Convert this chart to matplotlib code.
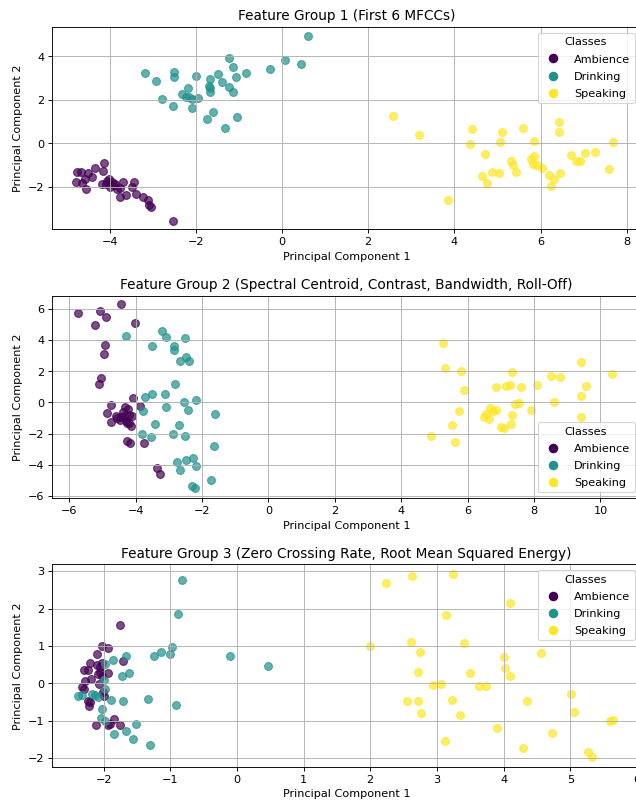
import matplotlib
matplotlib.use("Agg")
import matplotlib.pyplot as plt
import numpy as np
from matplotlib.lines import Line2D

classes = ["Ambience", "Drinking", "Speaking"]

# group 1: first 6 MFCCs
g1_amb_x = [-4.13, -4.33, -4.16, -4.75, -4.67, -4.51, -4.41, -4.58, -4.77, -4.65, -4.55, -4.18,
            -4.01, -3.95, -3.87, -3.98, -3.83, -3.75, -3.68, -3.77, -3.63, -3.49, -3.44, -3.39,
            -3.23, -3.11, -3.09, -3.03, -2.54, -4.06, -3.91, -4.08]
g1_amb_y = [-0.91, -1.15, -1.26, -1.32, -1.31, -1.37, -1.55, -1.65, -1.77, -1.83, -2.11, -1.86,
            -1.66, -1.77, -1.85, -2.00, -2.08, -2.05, -1.77, -2.49, -2.40, -2.00, -1.80, -2.31,
            -2.46, -2.62, -2.82, -2.92, -3.57, -1.74, -1.92, -1.85]
g1_dri_x = [0.61, -1.22, 0.08, 0.45, -1.14, -0.29, -3.19, -2.51, -2.50, -2.93, -2.00, -1.48,
            -0.83, -1.07, -1.66, -1.40, -1.69, -1.67, -1.68, -1.22, -1.13, -2.19, -2.33, -2.23,
            -2.16, -2.08, -1.96, -2.79, -2.54, -2.10, -1.60, -1.73, -1.04, -1.32]
g1_dri_y = [4.92, 3.91, 3.85, 3.65, 3.52, 3.42, 3.22, 3.29, 3.03, 2.88, 3.11, 3.18,
            3.22, 3.06, 2.95, 2.83, 2.62, 2.54, 2.38, 2.57, 2.37, 2.54, 2.28, 2.15,
            2.11, 2.05, 2.08, 2.03, 1.71, 1.62, 1.46, 1.11, 1.23, 0.71]
g1_spk_x = [2.58, 3.18, 3.86, 4.41, 4.37, 4.71, 5.10, 5.05, 5.60, 5.84, 5.32, 5.36, 5.43,
            4.86, 5.04, 4.63, 4.76, 5.77, 5.84, 5.83, 5.92, 6.02, 6.19, 6.30, 6.23, 6.46,
            6.43, 6.42, 6.71, 6.81, 6.91, 7.03, 7.27, 7.58, 7.69]
g1_spk_y = [1.25, 0.37, -2.63, 0.65, -0.03, -0.51, 0.51, 0.08, 0.72, 0.12, -0.82, -1.00, -1.31,
            -1.31, -1.38, -1.51, -1.82, -0.72, -0.57, -0.97, -1.00, -1.12, -1.46, -1.65, -1.98, -1.35,
            0.97, 0.54, -0.54, -0.82, -0.80, -0.45, -0.40, -1.17, 0.08]

# group 2: spectral centroid, contrast, bandwidth, roll-off
g2_amb_x = [-4.44, -5.75, -5.06, -4.90, -5.23, -4.01, -4.91, -4.95, -5.04, -5.11, -4.09, -4.74,
            -3.87, -4.31, -4.24, -4.86, -4.60, -4.44, -4.34, -4.19, -4.12, -4.74, -4.55, -4.29,
            -4.19, -4.13, -4.26, -4.39, -4.47, -4.26, -4.17, -3.76, -3.36, -3.26]
g2_amb_y = [6.34, 5.74, 5.91, 5.48, 4.99, 5.10, 3.70, 3.10, 1.55, 1.16, 0.28, -0.17,
            -0.26, -0.32, -0.43, -0.71, -0.86, -0.97, -0.86, -0.82, -0.86, -1.25, -1.03, -1.18,
            -1.33, -1.51, -1.35, -0.60, -1.12, -2.47, -2.62, -2.60, -4.19, -4.58]
g2_dri_x = [-3.22, -3.08, -2.52, -4.29, -3.51, -2.85, -2.85, -2.48, -2.40, -2.66, -2.80, -3.52,
            -3.72, -3.10, -2.54, -2.17, -3.08, -2.41, -3.79, -1.61, -3.43, -2.68, -3.80, -3.53,
            -2.86, -2.51, -1.63, -2.76, -2.47, -2.27, -2.19, -2.65, -1.74, -2.30, -2.20]
g2_dri_y = [4.60, 4.19, 4.13, 4.24, 3.61, 3.61, 3.40, 2.90, 2.69, 2.69, 1.18, 0.52,
            0.37, 0.52, 0.00, 0.15, -0.30, -0.47, -0.58, -0.77, -1.38, -1.46, -2.00, -2.22,
            -2.04, -2.15, -2.82, -3.85, -3.70, -3.57, -4.09, -4.32, -4.97, -5.38, -5.53]
g2_spk_x = [5.26, 5.33, 5.79, 5.88, 5.74, 5.54, 4.91, 5.63, 6.85, 7.16, 7.28, 7.35, 7.60,
            8.10, 8.52, 8.77, 9.42, 10.36, 9.58, 9.41, 8.61, 7.42, 7.56, 7.90, 6.68, 6.76,
            6.87, 6.54, 6.48, 6.64, 7.35, 7.30, 7.01, 7.09, 9.42]
g2_spk_y = [3.81, 2.24, 2.02, 0.77, -0.54, -1.44, -2.17, -2.52, 0.97, 1.05, 1.10, 1.98, 0.97,
            1.10, 1.68, 1.63, 2.58, 1.83, 1.03, 0.43, 0.00, -0.11, -0.04, -0.52, -0.34, -0.56,
            -0.52, -0.73, -0.97, -1.08, -0.82, -1.38, -1.57, -1.63, -0.95]

# group 3: zero crossing rate, RMS energy
g3_amb_x = [-1.75, -2.02, -1.93, -2.10, -1.71, -2.21, -2.10, -2.30, -2.24, -2.05, -2.02, -1.93,
            -2.06, -2.28, -2.19, -2.07, -2.32, -2.30, -2.01, -2.00, -2.24, -2.20, -2.22, -1.85,
            -2.12, -1.94, -1.91, -1.76, -2.08, -2.03]
g3_amb_y = [1.56, 0.99, 0.94, 0.78, 0.59, 0.53, 0.50, 0.36, 0.36, 0.43, 0.53, 0.28,
            0.29, 0.07, 0.12, -0.02, -0.09, -0.14, -0.24, -0.33, -0.46, -0.51, -0.61, -0.95,
            -1.11, -1.11, -1.09, -1.11, 0.25, 0.20]
g3_dri_x = [-0.82, -0.89, -0.98, -1.00, -1.14, -1.25, -0.11, 0.46, -1.67, -1.86, -1.62, -1.73,
            -1.98, -2.00, -2.38, -2.33, -2.13, -2.08, -1.89, -1.71, -1.34, -0.91, -2.03, -2.04,
            -1.98, -1.52, -1.84, -1.67, -1.56, -1.31, -2.18, -1.98]
g3_dri_y = [2.77, 1.86, 0.97, 0.79, 0.83, 0.73, 0.74, 0.47, 0.73, 0.63, 0.28, 0.19,
            0.52, 0.09, -0.33, -0.30, -0.30, -0.37, -0.45, -0.48, -0.43, -0.57, -0.70, -0.93,
            -1.00, -1.08, -1.36, -1.27, -1.49, -1.65, -0.29, -0.15]
g3_spk_x = [2.23, 2.62, 3.24, 4.10, 3.13, 1.99, 2.61, 3.41, 2.75, 4.56, 4.00, 4.02, 4.10,
            2.71, 3.49, 2.94, 3.06, 3.63, 3.73, 2.55, 2.72, 3.22, 2.76, 3.35, 4.35, 5.01,
            5.05, 3.90, 4.72, 3.12, 4.29, 5.27, 5.33, 5.59, 5.64]
g3_spk_y = [2.67, 2.88, 2.93, 2.16, 1.84, 1.01, 1.10, 1.07, 0.85, 0.81, 0.71, 0.41, 0.20,
            0.29, 0.28, -0.05, -0.02, -0.07, -0.08, -0.48, -0.48, -0.44, -0.79, -0.86, -0.47, -0.29,
            -0.76, -1.20, -1.34, -1.53, -1.73, -1.83, -1.98, -1.02, -0.98]

groups = [
    ("Feature Group 1 (First 6 MFCCs)",
     [(g1_amb_x, g1_amb_y), (g1_dri_x, g1_dri_y), (g1_spk_x, g1_spk_y)],
     (-5.33, 8.31), (-3.96, 5.35), "upper right"),
    ("Feature Group 2 (Spectral Centroid, Contrast, Bandwidth, Roll-Off)",
     [(g2_amb_x, g2_amb_y), (g2_dri_x, g2_dri_y), (g2_spk_x, g2_spk_y)],
     (-6.51, 11.2), (-6.15, 6.86), "lower right"),
    ("Feature Group 3 (Zero Crossing Rate, Root Mean Squared Energy)",
     [(g3_amb_x, g3_amb_y), (g3_dri_x, g3_dri_y), (g3_spk_x, g3_spk_y)],
     (-2.77, 6.05), (-2.23, 3.18), "upper right"),
]

colors = [plt.cm.viridis(v) for v in (0.0, 0.5, 1.0)]

dpi = 81.4
fig, axes = plt.subplots(3, 1, figsize=(636.2 / dpi, 802.2 / dpi), dpi=dpi)
fig.subplots_adjust(left=0.0822, right=1.0063, bottom=0.044, top=0.966, hspace=0.328)

for ax, (title, pts, xl, yl, loc) in zip(axes, groups):
    for (xs, ys), c in zip(pts, colors):
        ax.scatter(xs, ys, color=c, alpha=0.7, s=48)
    ax.set_xlim(*xl)
    ax.set_ylim(*yl)
    ax.set_title(title)
    ax.set_xlabel("Principal Component 1")
    ax.set_ylabel("Principal Component 2")
    ax.grid(True)
    handles = [Line2D([0], [0], marker="o", color="w", markerfacecolor=c,
                      markersize=9.5, label=name) for name, c in zip(classes, colors)]
    ax.legend(handles=handles, title="Classes", loc=loc, labelspacing=0.63)

fig.savefig("out.png", dpi=dpi)
